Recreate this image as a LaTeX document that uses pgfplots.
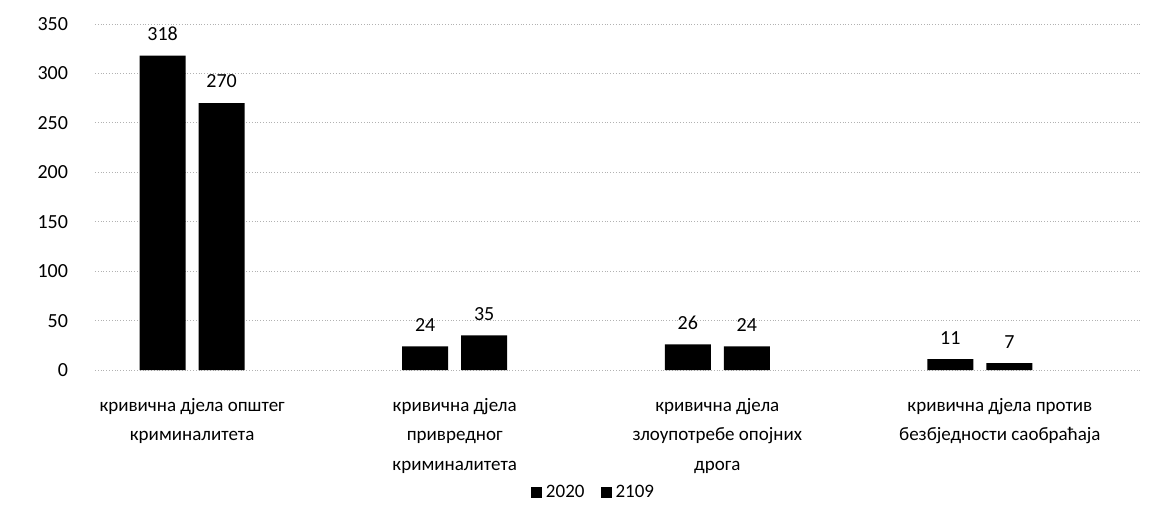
\documentclass[border=0pt]{standalone}
\usepackage{pgfplots}
\pgfplotsset{compat=1.18}
\usepackage{fontspec}
\setmainfont{Carlito}
\begin{document}
\begin{tikzpicture}
\path[use as bounding box] (-47.5pt,-75.5pt) rectangle (537.5pt,185pt);
\begin{axis}[
  at={(0pt,0pt)}, anchor=south west,
  scale only axis, width=522.5pt, height=173pt,
  ybar=6.5pt, bar width=23pt,
  xmin=-0.37, xmax=3.61, ymin=0, ymax=350,
  ytick={0,50,...,350},
  xtick={0,1,2,3},
  xticklabels={
    {кривична дјела општег\\криминалитета},
    {кривична дјела\\привредног\\криминалитета},
    {кривична дјела\\злоупотребе опојних\\дрога},
    {\hspace*{20pt}кривична дјела против\\\hspace*{20pt}безбједности саобраћаја}},
  xticklabel style={align=center, font=\fontsize{9.5}{14.8}\selectfont, anchor=north, yshift=-10.5pt},
  yticklabel style={font=\fontsize{10}{12}\selectfont, xshift=-10pt},
  /pgf/number format/assume math mode=true,
  major tick length=0pt,
  axis line style={draw=none},
  ymajorgrids,
  grid style={densely dotted, gray!60, line width=0.4pt},
  nodes near coords,
  every node near coord/.append style={font=\fontsize{10}{12}\selectfont, text=black, yshift=4pt},
  legend style={at={(0.478,-0.355)}, anchor=center, draw=none, fill=none,
    font=\fontsize{9.5}{12}\selectfont, legend columns=2,
    /tikz/every even column/.append style={column sep=6pt}},
  legend image code/.code={\fill (0pt,-2.7pt) rectangle (5.5pt,2.7pt);},
]
\addplot[fill=black, draw=none] coordinates {(0,318) (1,24) (2,26) (3,11)};
\addplot[fill=black, draw=none] coordinates {(0,270) (1,35) (2,24) (3,7)};
\legend{2020,2109}
\end{axis}
\end{tikzpicture}
\end{document}
